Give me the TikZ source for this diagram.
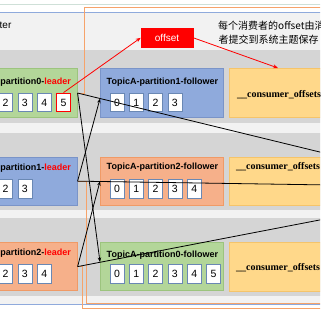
\documentclass[tikz,border=0pt]{standalone}
\usepackage{fontspec}
\newfontfamily\lsans{Liberation Sans}
\newfontfamily\lserif{Liberation Serif}
\newfontfamily\cjkf{Noto Sans CJK SC}
\usetikzlibrary{arrows.meta,calc}
\definecolor{clusterbg}{HTML}{F2F2F2}
\definecolor{clusterbd}{HTML}{8FAADC}
\definecolor{bandgray}{HTML}{D5D5D5}
\definecolor{greenF}{HTML}{B3D699}
\definecolor{greenD}{HTML}{9CC47E}
\definecolor{blueF}{HTML}{8FAADC}
\definecolor{blueD}{HTML}{7A94C8}
\definecolor{salmonF}{HTML}{F6B08A}
\definecolor{salmonD}{HTML}{F09A66}
\definecolor{coF}{HTML}{FFD88A}
\definecolor{coD}{HTML}{F5C46A}
\definecolor{cellb}{HTML}{6A88B4}
\definecolor{orangeline}{HTML}{F6A36A}
\definecolor{topline}{HTML}{CFE0D8}
\begin{document}
\begin{tikzpicture}[x=1pt,y=-1pt,
  part/.style={draw, line width=0.6pt, inner sep=0, anchor=north west},
  cellbox/.style={draw=cellb, fill=white, line width=0.7pt, minimum width=14pt,
    minimum height=18.5pt, inner sep=0, font=\lsans\fontsize{10.5}{10.5}\selectfont},
  ttl/.style={font=\lsans\bfseries\fontsize{9}{9}\selectfont, inner sep=0},
  cotxt/.style={font=\lserif\bfseries\fontsize{10}{10}\selectfont, inner sep=0, anchor=west},
  conn/.style={line width=0.8pt, -{Stealth[length=4.5pt,width=3.5pt]}},
  plainline/.style={line width=0.8pt},
  orng/.style={draw=orangeline, line width=1pt},
  redarr/.style={draw=red, line width=0.8pt, -{Stealth[length=5pt,width=4pt]}, red}
]
\useasboundingbox (0,0) rectangle (320,320);
\clip (0,0) rectangle (320,320);
\fill[white] (0,0) rectangle (320,320);
\draw[topline, line width=0.8pt] (-10,4) -- (330,4);
% cluster frame
\draw[clusterbd, fill=clusterbg, line width=0.8pt] (-10,12) rectangle (330,304.5);
\node[font=\lsans\fontsize{10}{10}\selectfont, anchor=west, inner sep=0] (clt) at (-0.5,25.5) {ter};
% bands
\fill[bandgray] (-10,50) rectangle (330,123);
\fill[bandgray] (-10,133) rectangle (330,210);
\fill[bandgray] (-10,218) rectangle (330,295.5);

% row 1
\node[part, fill=greenF, draw=greenD, minimum width=122pt, minimum height=48.5pt] (L0) at (-45,68.5) {};
\node[part, fill=blueF, draw=blueD, minimum width=123pt, minimum height=48.5pt] (F1) at (100,68.5) {};
\node[part, fill=coF, draw=coD, minimum width=100pt, minimum height=49pt] (C0) at (229,68) {};
\node[ttl, anchor=east] (L0t) at (71,82.5) {TopicA-partition0-\textcolor{red}{leader}};
\node[ttl, anchor=west] (F1t) at (106.5,82.5) {TopicA-partition1-follower};
\node[cotxt] (C0t) at (237,95) {\_\_consumer\_offsets};
\foreach \i in {0,...,5} \node[cellbox] (L0c\i) at (-33+19.3*\i,102.5) {\i};
\node[cellbox, draw=red, line width=1.3pt] (L0r) at (L0c5) {5};
\foreach \i in {0,...,3} \node[cellbox] (F1c\i) at (117+19.3*\i,102.5) {\i};

% row 2
\node[part, fill=blueF, draw=blueD, minimum width=122pt, minimum height=48.3pt] (L1) at (-45,156.7) {};
\node[part, fill=salmonF, draw=salmonD, minimum width=123pt, minimum height=48.3pt] (F2) at (100,156.7) {};
\node[part, fill=coF, draw=coD, minimum width=100pt, minimum height=48.3pt] (C1) at (229,156.7) {};
\node[ttl, anchor=east] (L1t) at (71,168) {TopicA-partition1-\textcolor{red}{leader}};
\node[ttl, anchor=west] (F2t) at (106.5,167) {TopicA-partition2-follower};
\node[cotxt] (C1t) at (236,167) {\_\_consumer\_offsets};
\foreach \i in {0,...,3} \node[cellbox] (L1c\i) at (-33+19.3*\i,188.7) {\i};
\foreach \i in {0,...,4} \node[cellbox] (F2c\i) at (117+19.3*\i,188.7) {\i};

% row 3
\node[part, fill=salmonF, draw=salmonD, minimum width=122pt, minimum height=48pt] (L2) at (-45,242.3) {};
\node[part, fill=greenF, draw=greenD, minimum width=123pt, minimum height=48pt] (F0) at (100,242.3) {};
\node[part, fill=coF, draw=coD, minimum width=100pt, minimum height=48.5pt] (C2) at (229,242.3) {};
\node[ttl, anchor=east] (L2t) at (71,253.5) {TopicA-partition2-\textcolor{red}{leader}};
\node[ttl, anchor=west] (F0t) at (106.5,255) {TopicA-partition0-follower};
\node[cotxt] (C2t) at (236,268) {\_\_consumer\_offsets};
\foreach \i in {0,...,4} \node[cellbox] (L2c\i) at (-33+19.3*\i,274) {\i};
\foreach \i in {0,...,5} \node[cellbox] (F0c\i) at (117+19.3*\i,274) {\i};

% offset box and note
\node[part, fill=red, draw=red, minimum width=52pt, minimum height=18.4pt] (off) at (140.7,28.3) {};
\node[font=\lsans\fontsize{10}{10}\selectfont, text=white, inner sep=0] (offt) at (off.center) {offset};
\node[font=\cjkf\fontsize{10}{10}\selectfont, anchor=west, inner sep=0] (n1) at (218,26) {每个消费者的offset由消};
\node[font=\cjkf\fontsize{10}{10}\selectfont, anchor=west, inner sep=0] (n2) at (218.5,40) {者提交到系统主题保存};

% coordinates
\coordinate (a1) at (100,98.6);
\coordinate (a2) at (100,181.2);
\coordinate (a0) at (100,262);
\coordinate (o0) at (330,154.5);
\coordinate (o1) at (330,185);
\coordinate (o2) at (330,218);
\coordinate (t0) at (330,8);
\coordinate (t1) at (330,303.5);
\coordinate (t2) at (330,308.5);
\coordinate (cin) at ($(C0.north west)+(49,0)$);

% orange lines
\draw[orng] (L0.east) -- ++(7,0) |- (t0);
\draw[orng] (L1.east) -- ++(9,0) |- (t1);
\draw[orng] (L2.east) -- ++(5,0) |- (t2);

% black lines
\draw[plainline] (L0.east) -- (o0);
\draw[plainline] (L1.east) -- (o1);
\draw[plainline] (L2.east) -- (o2);
\draw[conn] (L0.east) -- (a0);
\draw[conn] (L1.east) -- (a1);
\draw[conn] (L2.east) -- (a2);

% red arrows
\draw[redarr] (L0r.north) -- (off.west);
\draw[redarr] (off.east) -- (cin);
\end{tikzpicture}
\end{document}
